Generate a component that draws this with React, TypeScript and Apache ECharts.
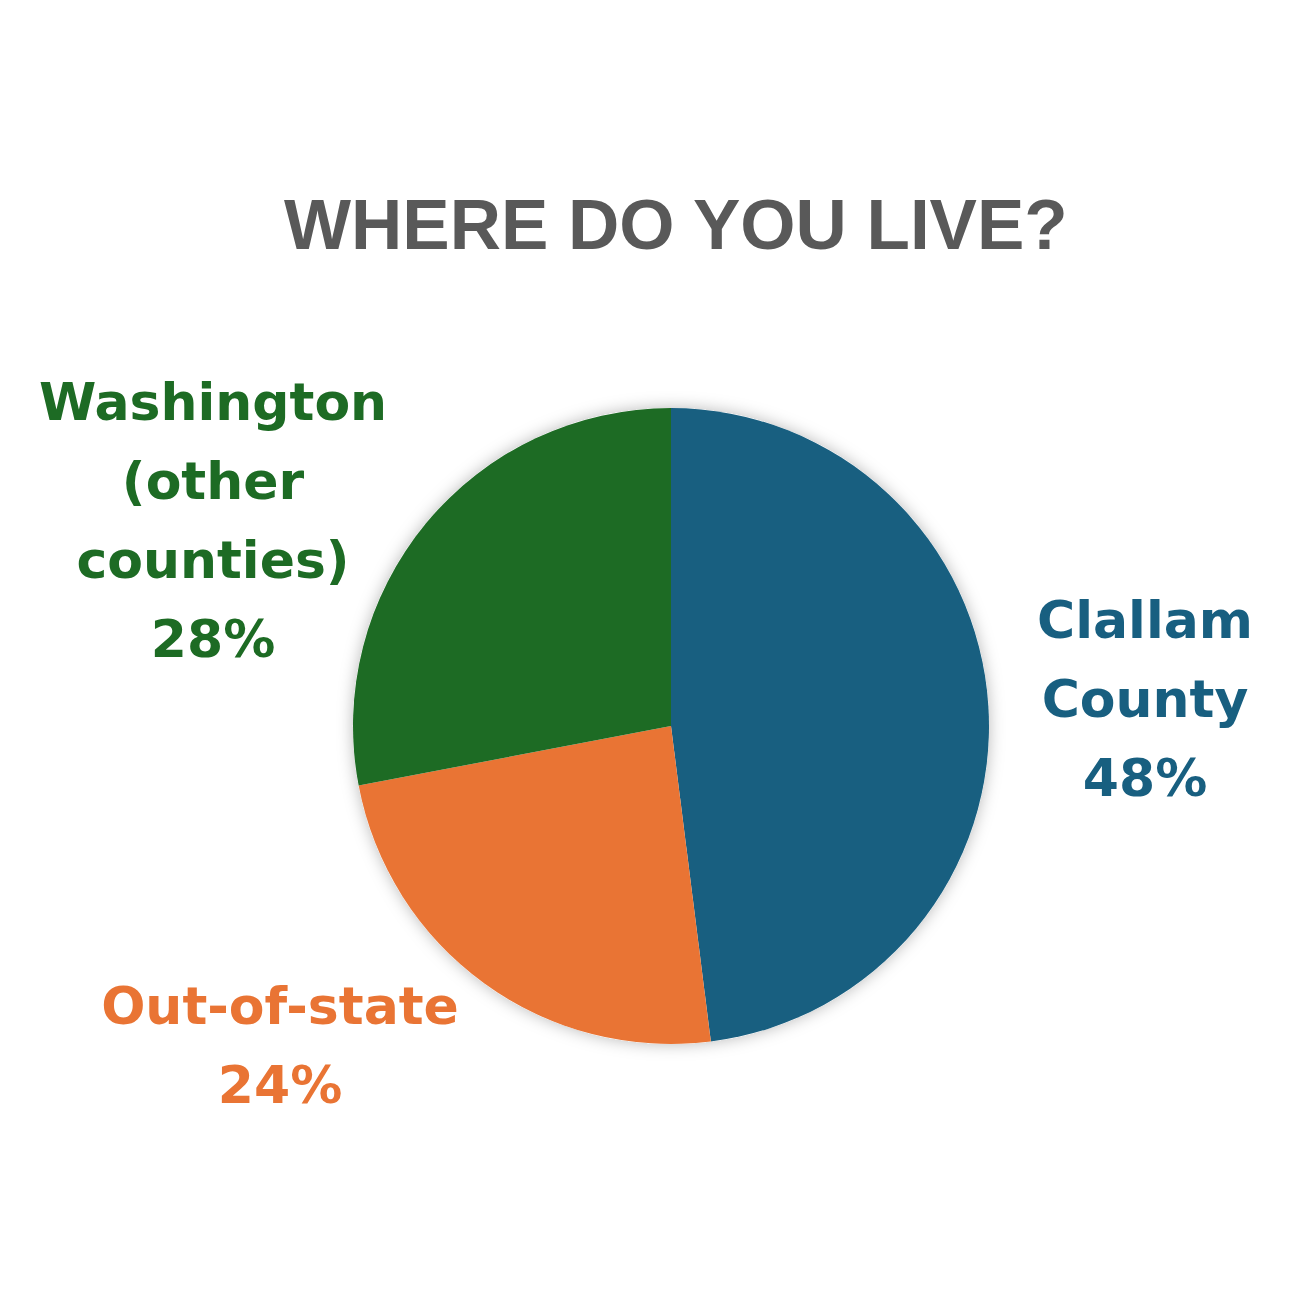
import React, { useEffect, useRef } from 'react';
import * as echarts from 'echarts';

const TITLE = 'WHERE DO YOU LIVE?';
const categories = ['Clallam\nCounty', 'Out-of-state', 'Washington\n(other\ncounties)'];
const values = [48, 24, 28];
const colors = ['#185f80', '#e97434', '#1d6b24'];
// label block centres, as fractions of the chart width / height
const labelAnchors = [
  [1145 / 1296, 699 / 1296],
  [280 / 1296, 1045 / 1296],
  [213 / 1296, 520 / 1296],
];

const SIZE = 1296;

export default function App() {
  const ref = useRef<HTMLDivElement>(null);
  useEffect(() => {
    document.body.style.margin = '0';
    const chart = echarts.init(ref.current!, null, { renderer: 'svg' });
    chart.setOption({
      animation: false,
      backgroundColor: '#ffffff',
      title: {
        text: TITLE,
        left: 279,
        top: 184,
        textStyle: {
          fontFamily: 'Liberation Sans',
          fontWeight: 'bold',
          fontSize: 71,
          color: '#595959',
        },
      },
      series: [
        {
          type: 'pie',
          silent: true,
          z: 1,
          center: [671, 726],
          radius: 318,
          label: { show: false },
          labelLine: { show: false },
          data: [
            {
              value: 1,
              itemStyle: { color: '#ffffff', shadowBlur: 16, shadowColor: 'rgba(0,0,0,0.28)' },
            },
          ],
        },
        {
          type: 'pie',
          z: 2,
          center: [671, 726],
          radius: 318,
          startAngle: 90,
          clockwise: true,
          itemStyle: { borderWidth: 0 },
          label: {
            show: true,
            position: 'outside',
            formatter: (p: any) => `${p.name}\n${p.value}%`,
            fontFamily: 'DejaVu Sans',
            fontWeight: 'bold',
            fontSize: 52,
            lineHeight: 79,
            color: 'inherit',
          },
          labelLine: { show: false },
          labelLayout: (params: any) => {
            const a = labelAnchors[params.dataIndex];
            return {
              x: a[0] * SIZE,
              y: a[1] * SIZE,
              align: 'center',
              verticalAlign: 'middle',
            };
          },
          data: categories.map((c, i) => ({
            name: c,
            value: values[i],
            itemStyle: { color: colors[i] },
            label: { color: colors[i] },
          })),
        },
      ],
    });
    return () => chart.dispose();
  }, []);
  return <div ref={ref} style={{ width: SIZE, height: SIZE }} />;
}
